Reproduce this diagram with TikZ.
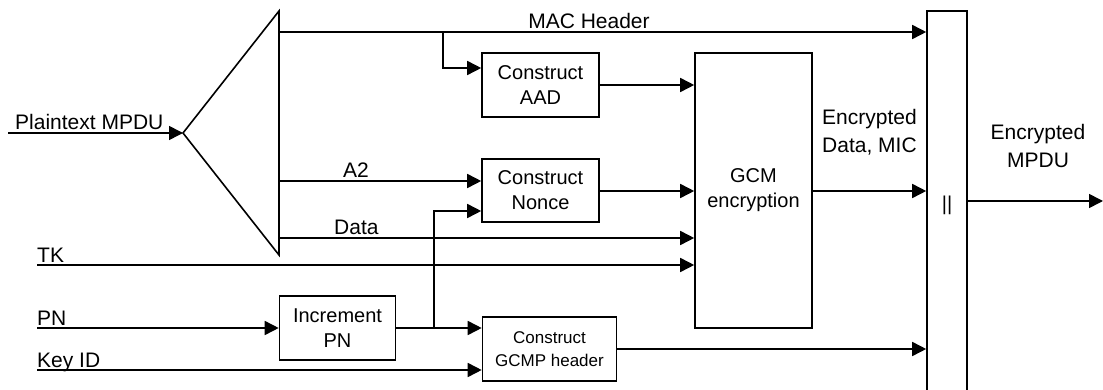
\documentclass[tikz,border=0pt]{standalone}
\usepackage{fontspec}
\setmainfont{Liberation Sans}
\usetikzlibrary{arrows.meta}
\begin{document}
\begin{tikzpicture}[x=1pt,y=-1pt,
  ln/.style={line width=1.6pt},
  arr/.style={ln,-{Triangle[length=14pt,width=14pt]}},
  blk/.style={draw,ln,inner sep=0pt,align=center,font=\fontsize{20}{25}\selectfont},
  lbl/.style={inner sep=0pt,font=\fontsize{21}{28}\selectfont}]
\useasboundingbox (0,0) rectangle (1103,390);
% blocks
\node[blk,minimum width=117pt,minimum height=64pt] (aad) at (540.5,85) {Construct\\AAD};
\node[blk,minimum width=117pt,minimum height=63pt] (nonce) at (540.5,190.5) {Construct\\Nonce};
\node[blk,minimum width=117pt,minimum height=275pt] (gcm) at (753.5,190.5) {GCM\\encryption};
\node[blk,minimum width=116pt,minimum height=64pt] (inc) at (337.5,328) {Increment\\PN};
\node[blk,minimum width=134pt,minimum height=64pt,font=\fontsize{17}{23}\selectfont] (gcmp) at (549.5,349) {Construct\\GCMP header};
\node[blk,minimum width=40pt,minimum height=389pt] (par) at (947,205.5) {||};
% splitter triangle
\coordinate (apex) at (183,133);
\coordinate (ttop) at (279,11);
\coordinate (tbot) at (279,255);
\draw[ln,line join=miter] (ttop) -- (apex) -- (tbot) -- cycle;
% helper coordinates
\coordinate (pin) at (8,133);
\coordinate (macs) at (279,32);
\coordinate (br1) at (443,32);
\coordinate (y68) at (0,68);
\coordinate (a2s) at (279,181);
\coordinate (datas) at (279,238);
\coordinate (tks) at (37,265);
\coordinate (pns) at (37,328);
\coordinate (kids) at (37,370);
\coordinate (incy) at (0,328);
\coordinate (br2) at (434,328);
\coordinate (y211) at (0,211);
\coordinate (y191) at (0,191);
\coordinate (y201) at (0,201);
\coordinate (out) at (1103,201);
% connectors
\draw[arr] (pin) -- (apex);
\draw[arr] (macs) -- (macs -| par.west);
\draw[arr] (br1) |- (aad.west |- y68);
\draw[arr] (aad.east) -- (gcm.west |- aad.east);
\draw[arr] (a2s) -- (a2s -| nonce.west);
\draw[arr] (nonce.east |- y191) -- (gcm.west |- y191);
\draw[arr] (datas) -- (datas -| gcm.west);
\draw[arr] (tks) -- (tks -| gcm.west);
\draw[arr] (pns) -- (inc.west);
\draw[arr] (inc.east) -- (gcmp.west |- incy);
\draw[arr] (br2) |- (nonce.west |- y211);
\draw[arr] (kids) -- (kids -| gcmp.west);
\draw[arr] (gcmp.east) -- (gcmp.east -| par.west);
\draw[arr] (gcm.east |- y191) -- (par.west |- y191);
\draw[arr] (par.east |- y201) -- (out);
% labels
\node[lbl,anchor=base west] (lplain) at (15,130) {Plaintext MPDU};
\node[lbl,anchor=base] (lmac) at (589,29) {MAC Header};
\node[lbl,anchor=base west] (la2) at (343,178) {A2};
\node[lbl,anchor=base west] (ldata) at (334,234) {Data};
\node[lbl,anchor=base west] (ltk) at (37,262) {TK};
\node[lbl,anchor=base west] (lpn) at (37,325.5) {PN};
\node[lbl,anchor=base west] (lkid) at (37,367) {Key ID};
\node[lbl,anchor=base west,align=left] (lenc) at (822,153) {Encrypted\\Data, MIC};
\node[lbl,anchor=base,align=center] (lout) at (1038,168) {Encrypted\\MPDU};
\end{tikzpicture}
\end{document}
